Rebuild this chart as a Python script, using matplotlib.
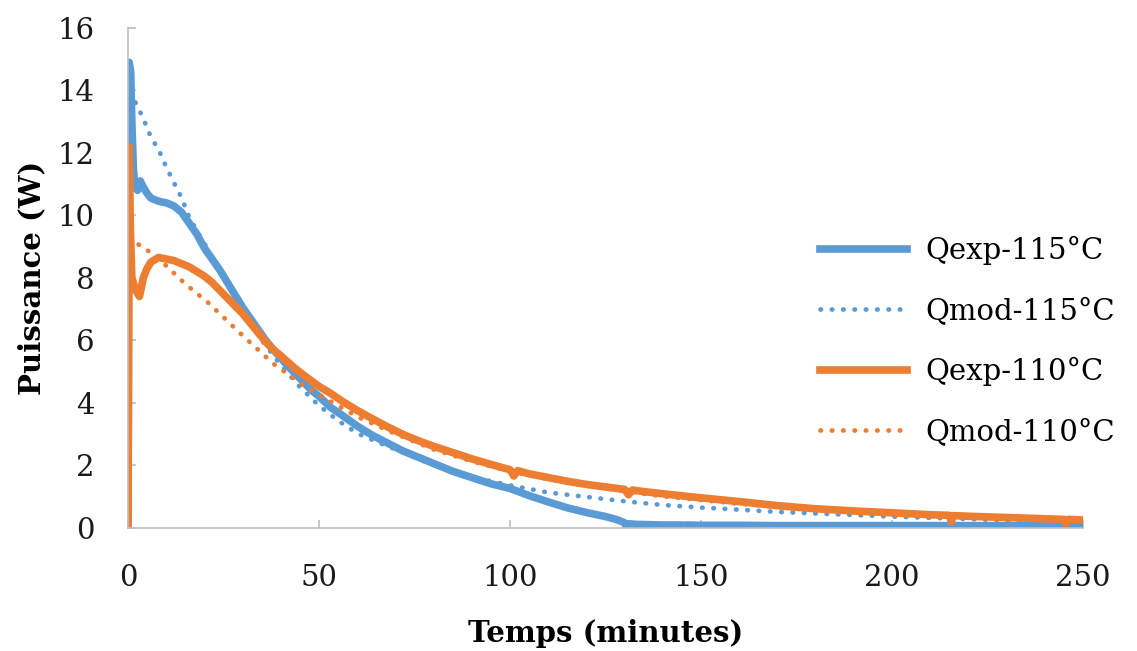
import numpy as np
import matplotlib
matplotlib.use("Agg")
import matplotlib.pyplot as plt

# Qexp-115°C (measured)
t_exp115 = [0, 0.3, 0.7, 1.0, 1.4, 1.8, 2.5, 3.2, 4, 5, 6, 8, 10, 12, 14, 16, 18, 20, 22, 24,
            26, 28, 30, 32, 34, 36, 38, 40, 42, 44, 46, 48, 50, 53, 56, 60, 64, 68, 72, 76,
            80, 85, 90, 95, 100, 105, 110, 115, 120, 125, 128, 130, 130.5, 131, 133, 140,
            145, 145.5, 146, 150, 160, 170, 180, 190, 200, 210, 220, 230, 240, 250]
q_exp115 = [0, 14.9, 14.6, 13.0, 11.5, 10.9, 10.8, 11.1, 10.9, 10.7, 10.55, 10.45, 10.4, 10.3,
            10.1, 9.75, 9.4, 8.95, 8.6, 8.25, 7.85, 7.45, 7.05, 6.7, 6.35, 6.0, 5.7, 5.43,
            5.15, 4.9, 4.65, 4.4, 4.2, 3.85, 3.6, 3.25, 2.95, 2.7, 2.45, 2.25, 2.05, 1.8,
            1.6, 1.4, 1.25, 1.02, 0.82, 0.63, 0.48, 0.35, 0.25, 0.15, 0.0, 0.12, 0.1, 0.08,
            0.08, 0.0, 0.08, 0.07, 0.07, 0.06, 0.06, 0.06, 0.06, 0.06, 0.06, 0.06, 0.06, 0.06]

# Qmod-115°C (model)
t_mod115 = [0, 2, 4, 6, 8, 10, 12, 14, 16, 18, 20, 22, 25, 30, 35, 40, 45, 50, 55, 60, 65,
            70, 80, 90, 100, 110, 120, 130, 140, 150, 160, 170, 180, 190, 200, 210, 220,
            230, 240, 250]
q_mod115 = [14.3, 13.6, 13.1, 12.5, 12.1, 11.55, 11.05, 10.56, 9.95, 9.5, 9.1, 8.65, 8.05,
            7.0, 6.0, 5.2, 4.5, 3.9, 3.42, 3.02, 2.75, 2.5, 2.0, 1.62, 1.35, 1.12, 0.98,
            0.84, 0.72, 0.64, 0.57, 0.5, 0.45, 0.4, 0.35, 0.31, 0.27, 0.23, 0.2, 0.17]

# Qexp-110°C (measured)
t_exp110 = [0, 0.3, 0.6, 1.0, 1.5, 2.0, 3.0, 4.0, 5.0, 6, 8, 10, 12, 14, 16, 18, 20, 22, 24,
            26, 28, 30, 32, 34, 36, 38, 40, 42, 44, 46, 48, 50, 53, 56, 60, 64, 68, 72, 76,
            80, 85, 90, 95, 100, 101, 102, 105, 110, 115, 120, 125, 130, 131, 132, 135, 140,
            150, 160, 170, 180, 190, 200, 210, 215, 215.5, 216, 220, 230, 240, 245, 245.5,
            246, 250]
q_exp110 = [0, 12.2, 9.6, 8.0, 7.8, 7.6, 7.4, 8.0, 8.3, 8.5, 8.65, 8.6, 8.55, 8.45, 8.35,
            8.2, 8.05, 7.85, 7.6, 7.35, 7.1, 6.85, 6.55, 6.25, 5.95, 5.7, 5.5, 5.28, 5.07,
            4.88, 4.7, 4.52, 4.3, 4.05, 3.75, 3.48, 3.22, 2.98, 2.78, 2.6, 2.4, 2.2, 2.02,
            1.85, 1.65, 1.82, 1.72, 1.6, 1.48, 1.38, 1.3, 1.22, 1.05, 1.2, 1.15, 1.08, 0.95,
            0.83, 0.7, 0.6, 0.53, 0.47, 0.41, 0.39, 0.18, 0.38, 0.36, 0.32, 0.28, 0.26, 0.1,
            0.26, 0.24]

# Qmod-110°C (model)
t_mod110 = [0, 3, 6, 9, 12, 15, 18, 21, 24, 27, 30, 34, 38, 42, 46, 50, 55, 60, 70, 80, 90,
            100, 110, 120, 130, 140, 150, 160, 170, 180, 190, 200, 210, 220, 230, 240, 250]
q_mod110 = [9.2, 9.05, 8.8, 8.5, 8.15, 7.8, 7.5, 7.2, 6.85, 6.5, 6.15, 5.7, 5.25, 4.9, 4.55,
            4.25, 3.9, 3.55, 3.0, 2.5, 2.12, 1.8, 1.55, 1.34, 1.16, 1.0, 0.88, 0.76, 0.66,
            0.57, 0.5, 0.44, 0.39, 0.34, 0.3, 0.26, 0.23]

blue = "#5B9BD5"
orange = "#ED7D31"
dots = (0, (0.1, 2.3))
fs = 21

plt.rcParams["font.family"] = ["DejaVu Serif"]

fig = plt.figure(figsize=(11.37, 6.51), dpi=100)
ax = fig.add_axes([0.1126, 0.1897, 0.84, 0.7673])

ax.plot(t_exp115, q_exp115, color=blue, lw=5.5, label="Qexp-115°C", solid_joinstyle="round")
ax.plot(t_mod115, q_mod115, color=blue, lw=3.4, ls=dots, dash_capstyle="round", label="Qmod-115°C")
ax.plot(t_exp110, q_exp110, color=orange, lw=5.5, label="Qexp-110°C", solid_joinstyle="round")
ax.plot(t_mod110, q_mod110, color=orange, lw=3.4, ls=dots, dash_capstyle="round", label="Qmod-110°C")

ax.set_xlim(0, 250)
ax.set_ylim(0, 16)
ax.set_xticks(np.arange(0, 251, 50))
ax.set_yticks(np.arange(0, 17, 2))
for s in ["top", "right"]:
    ax.spines[s].set_visible(False)
for s in ["left", "bottom"]:
    ax.spines[s].set_color("#BFBFBF")
    ax.spines[s].set_linewidth(1.2)
ax.tick_params(axis="both", direction="in", length=6, width=1.2, color="#BFBFBF",
               labelsize=fs, labelcolor="#1a1a1a")
ax.tick_params(axis="y", pad=24)
ax.tick_params(axis="x", pad=26)

ax.set_xlabel("Temps (minutes)", fontsize=fs, fontweight="bold", labelpad=20)
ax.set_ylabel("Puissance (W)", fontsize=fs, fontweight="bold", labelpad=8)

leg = ax.legend(loc="center left", bbox_to_anchor=(0.697, 0.373), frameon=False,
                fontsize=fs, handlelength=3.0, labelspacing=1.1, handletextpad=0.6)

fig.savefig("out.png", dpi=100)
